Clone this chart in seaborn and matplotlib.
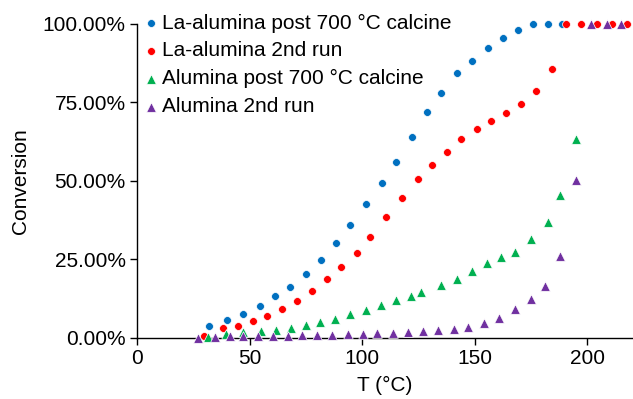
import matplotlib
matplotlib.use("Agg")
import matplotlib.pyplot as plt
from matplotlib.ticker import PercentFormatter
import seaborn as sns
import pandas as pd

# ---- data ----
la_post_T = [32.0, 39.9, 47.1, 54.5, 61.2, 67.9, 74.9, 81.6, 88.3, 94.8, 101.6, 108.7,
             115.0, 122.2, 128.8, 135.2, 142.2, 149.0, 155.7, 162.5, 169.3, 175.7, 182.5, 188.8]
la_post_conv = [3.9, 5.7, 7.7, 10.2, 13.2, 16.2, 20.2, 24.9, 30.2, 35.9, 42.5, 49.2,
                56.1, 63.9, 72.0, 77.9, 84.2, 88.0, 92.1, 95.3, 98.0, 100, 100, 100]

la_2nd_T = [29.8, 38.1, 44.8, 51.4, 57.6, 64.6, 71.2, 77.8, 84.3, 90.8, 97.5, 103.6,
            110.7, 117.8, 124.8, 130.8, 137.5, 143.9, 150.8, 157.3, 163.9, 170.5, 177.3,
            184.3, 190.5, 197.2, 204.3, 210.9, 217.6]
la_2nd_conv = [0.7, 3.1, 3.9, 5.3, 7.1, 9.2, 11.9, 15.0, 18.7, 22.6, 27.1, 32.2,
               38.6, 44.6, 50.6, 55.0, 59.2, 63.4, 66.6, 69.0, 71.4, 74.3, 78.6,
               85.4, 100, 100, 100, 100, 100]

al_post_T = [31.4, 39.4, 47.1, 55.0, 61.6, 68.4, 75.0, 81.2, 88.1, 94.8, 101.5, 108.4,
             115.1, 121.6, 126.1, 134.8, 141.9, 148.6, 155.4, 161.6, 168.0, 175.2, 182.5,
             187.9, 195.1]
al_post_conv = [0.4, 1.3, 1.8, 2.1, 2.5, 3.3, 4.0, 5.0, 6.1, 7.7, 8.9, 10.5,
                12.1, 13.5, 14.7, 16.8, 18.6, 21.3, 23.9, 25.9, 27.3, 31.6, 36.8,
                45.6, 63.4]

al_2nd_T = [27.2, 34.7, 41.2, 47.1, 53.9, 60.4, 67.0, 73.5, 80.0, 86.7, 93.6, 100.3,
            106.8, 113.5, 120.3, 127.0, 133.5, 140.8, 147.1, 154.2, 160.9, 167.9, 175.1,
            181.3, 188.0, 195.0, 201.8, 208.6, 215.0]
al_2nd_conv = [0.0, 0.4, 0.6, 0.6, 0.6, 0.7, 0.7, 1.0, 1.0, 1.0, 1.2, 1.3,
               1.5, 1.7, 1.9, 2.2, 2.5, 2.9, 3.5, 4.7, 6.5, 9.3, 12.4,
               16.6, 26.0, 50.2, 100, 100, 100]

series_names = ["La-alumina post 700 °C calcine", "La-alumina 2nd run",
                "Alumina post 700 °C calcine", "Alumina 2nd run"]
series_T = [la_post_T, la_2nd_T, al_post_T, al_2nd_T]
series_conv = [la_post_conv, la_2nd_conv, al_post_conv, al_2nd_conv]
x_ticks = [0, 50, 100, 150, 200]
y_ticks = [0, 0.25, 0.5, 0.75, 1.0]

# ---- style ----
colors = ["#0070C0", "#FF0000", "#00B050", "#7030A0"]
markers = ["o", "o", "^", "^"]
msizes = [32, 32, 48, 48]

sns.set_style("ticks")
plt.rcParams["font.family"] = ["Liberation Sans", "DejaVu Sans"]
plt.rcParams["text.color"] = "black"
plt.rcParams["axes.labelcolor"] = "black"
plt.rcParams["xtick.color"] = "black"
plt.rcParams["ytick.color"] = "black"

fig = plt.figure(figsize=(6.33, 3.99), dpi=100)
ax = fig.add_axes([0.2164, 0.153, 0.7826, 0.788])

for name, T, conv, c, m, s in zip(series_names, series_T, series_conv, colors, markers, msizes):
    df = pd.DataFrame({"T": T, "Conversion": [v / 100 for v in conv]})
    sns.scatterplot(data=df, x="T", y="Conversion", ax=ax, color=c, marker=m,
                    s=s, edgecolor="white", linewidth=0.5, label=name,
                    clip_on=False, zorder=3)

ax.set_xlim(0, 220)
ax.set_ylim(0, 1.0)
ax.set_xticks(x_ticks)
ax.set_yticks(y_ticks)
ax.yaxis.set_major_formatter(PercentFormatter(xmax=1, decimals=2))
ax.tick_params(axis="both", labelsize=15, length=5, width=1, colors="black",
               direction="out", pad=3)
for side in ["top", "right"]:
    ax.spines[side].set_visible(False)
for side in ["left", "bottom"]:
    ax.spines[side].set_color("black")
    ax.spines[side].set_linewidth(1)

ax.set_xlabel("T (°C)", fontsize=15, labelpad=6, color="black")
ax.set_ylabel("Conversion", fontsize=15, labelpad=9, color="black")

leg = ax.legend(loc="upper left", bbox_to_anchor=(-0.007, 1.058), frameon=False,
                fontsize=15, handletextpad=0.05, labelspacing=0.42,
                borderaxespad=0, handlelength=0.9, markerscale=1.0)
for t in leg.get_texts():
    t.set_color("black")

fig.savefig("out.png", dpi=100)
